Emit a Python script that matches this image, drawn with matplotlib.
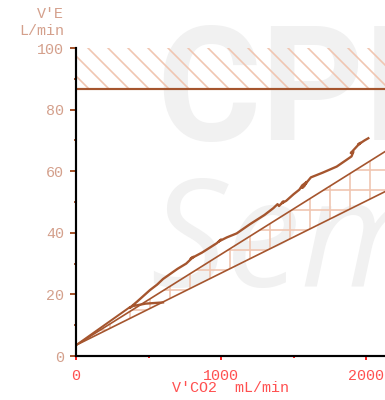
import matplotlib
matplotlib.use('Agg')
import matplotlib.pyplot as plt
import numpy as np

# ventilation vs CO2 output, breath-averaged
vco2 = [600, 480, 390, 370, 420, 510, 560, 600, 700, 760, 809, 790, 870, 970,
        1000, 985, 1040, 1108, 1200, 1300, 1361, 1390, 1400, 1430, 1420, 1450,
        1500, 1540, 1560, 1591, 1575, 1560, 1620, 1700, 1798, 1860, 1900, 1913,
        1895, 1936, 1960, 1945, 1990, 2016]
ve = [17.4, 17.0, 16.2, 15.6, 17.6, 21.4, 23.2, 25.0, 28.3, 30.0, 32.2, 31.6,
      33.6, 36.6, 37.8, 37.2, 38.5, 39.8, 42.8, 45.8, 48.0, 49.3, 48.7, 50.2,
      49.6, 50.4, 52.5, 54.0, 55.4, 56.5, 55.2, 54.6, 58.0, 59.5, 61.5, 63.5,
      64.8, 66.3, 65.9, 68.0, 69.2, 68.6, 70.0, 70.7]

# fitted slope and predicted normal band (L/min per mL/min)
fit_intercept = 3.5
fit_slope = 0.0333
norm_upper_slope = 0.0295
norm_lower_slope = 0.0234
ve_max = 86.7

x_ticks = [0, 1000, 2000]
y_ticks = [0, 20, 40, 60, 80, 100]

brown = '#a5552e'
light = '#f0c6b2'
tan = '#d4a08c'
red = '#ff5050'

plt.rcParams['font.family'] = 'Liberation Mono'
plt.rcParams['font.size'] = 9
plt.rcParams['hatch.color'] = light
plt.rcParams['hatch.linewidth'] = 1.0

fig = plt.figure(figsize=(385/120, 400/120), dpi=120)
ax = fig.add_axes([0.1974, 0.11, 0.8026, 0.77])
ax.set_xlim(0, 2131)
ax.set_ylim(0, 100)

# faint background lettering
ax.text(0.405, 0.65, 'CPE', transform=fig.transFigure, fontsize=96,
        family='Roboto', fontweight='bold', color='#f1f1f1',
        va='baseline', ha='left', zorder=0, clip_on=False)
ax.text(0.39, 0.2825, 'Sem', transform=fig.transFigure, fontsize=90,
        family='Open Sans', fontstyle='italic', fontweight='normal',
        color='#f1f1f1', va='baseline', ha='left', zorder=0, clip_on=False)

# upper limit band
ax.axhspan(ve_max, 100, facecolor='none', edgecolor=light, hatch='\\\\',
           linewidth=0, zorder=1)
ax.axhline(ve_max, color=brown, lw=1.3, zorder=2)

# normal range band
xs = np.array([0, 2131])
lo = fit_intercept + norm_lower_slope * xs
hi = fit_intercept + norm_upper_slope * xs
ax.fill_between(xs, lo, hi, facecolor='none', edgecolor=light, hatch='+',
                linewidth=0, zorder=1)
ax.plot(xs, lo, color=brown, lw=1.0, zorder=2)
ax.plot(xs, hi, color=brown, lw=1.0, zorder=2)

# regression line up to the first breath, then measured data
xf = np.array([0, min(vco2)])
ax.plot(xf, fit_intercept + fit_slope * xf, color=brown, lw=1.2, zorder=2)
ax.plot(vco2, ve, color=brown, lw=1.4, zorder=3)

for s in ['top', 'right']:
    ax.spines[s].set_visible(False)
for s in ['left', 'bottom']:
    ax.spines[s].set_linewidth(1.3)
    ax.spines[s].set_color('black')

ax.set_xticks(x_ticks)
ax.set_xticks([500, 1500], minor=True)
ax.set_yticks(y_ticks)
ax.set_yticks([10, 30, 50, 70, 90], minor=True)
ax.tick_params(axis='y', which='major', length=3.6, width=1.2, color=brown,
               labelcolor=tan, pad=3.5)
ax.tick_params(axis='y', which='minor', length=1.2, width=1.2, color=brown)
ax.tick_params(axis='x', which='major', length=2.5, width=1.2, color='#ff2020',
               labelcolor=red, pad=5)
ax.tick_params(axis='x', which='minor', length=1.2, width=1.2, color='#ff2020')

fig.text(64/385, 1 - 14/400, "V'E", color=tan, ha='right', va='center')
fig.text(64/385, 1 - 31/400, "L/min", color=tan, ha='right', va='center')
fig.text(230/385, 1 - 388/400, "V'CO2  mL/min", color=red, ha='center',
         va='center')

fig.savefig('out.png', dpi=120)
